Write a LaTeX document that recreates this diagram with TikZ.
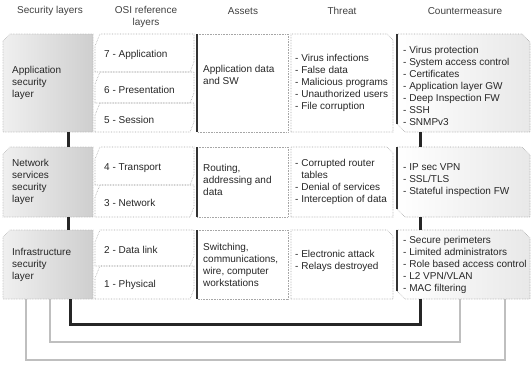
\documentclass[tikz,border=0pt]{standalone}
\usepackage{fontspec}
\setmainfont{Liberation Sans}
\usetikzlibrary{calc}

% outline helpers for the different cell shapes
\newcommand\secshape[1]{%
  \path[secfill] ($(#1.north west)+(0,7)$) -- ($(#1.north west)+(7,0)$) --
    (#1.north east) -- (#1.south east) -- (#1.south west) -- cycle;}
\newcommand\osishape[1]{%
  \draw[edge] (#1.south west) -- ($(#1.north west)+(0,12)$) -- ($(#1.north west)+(5,0)$) --
    (#1.north east) -- ($(#1.south east)+(0,-10)$) -- ($(#1.south east)+(-4,0)$) -- cycle;}
\newcommand\assetshape[1]{%
  \draw[edge] (#1.north west) -- (#1.north east) -- (#1.south east) -- (#1.south west);
  \draw[thickedge] (#1.north west) -- (#1.south west);}
\newcommand\threatshape[1]{%
  \draw[edge] (#1.south west) -- (#1.north west) -- ($(#1.north east)+(-6,0)$) --
    ($(#1.north east)+(0,6)$) -- (#1.south east) -- cycle;}
\newcommand\cmshape[1]{%
  \path[cmfill] ($(#1.south west)+(0,-8)$) -- (#1.north west) -- ($(#1.north east)+(-8,0)$) --
    ($(#1.north east)+(0,8)$) -- (#1.south east) -- ($(#1.south west)+(8,0)$) -- cycle;
  \draw[thickedge] (#1.north west) -- ($(#1.south west)+(0,-8)$);}

\begin{document}
\begin{tikzpicture}[x=1pt,y=-1pt,
  every node/.style={font=\fontsize{10}{12}\selectfont},
  frame/.style={inner sep=0pt, outer sep=0pt, anchor=north west},
  lbl/.style={anchor=west, align=left, inner sep=0pt, text=black!85},
  hdr/.style={align=center, inner sep=0pt, text=black!75},
  edge/.style={draw=gray!70, line width=0.6pt, densely dotted},
  thickedge/.style={draw=black!80, line width=1.8pt},
  secfill/.style={left color=gray!12, right color=gray!38, draw=gray!60, line width=0.6pt, densely dotted},
  cmfill/.style={left color=white, right color=gray!18, draw=gray!70, line width=0.6pt, densely dotted},
  bar/.style={draw=black!85, line width=3pt},
  darklink/.style={draw=black!85, line width=3pt},
  greylink/.style={draw=gray!50, line width=2.6pt}
]
\useasboundingbox (0,0) rectangle (532,364);

% column headers
\node[hdr] (hsec) at (50,11) {Security layers};
\node[hdr] (hosi) at (146,17) {OSI reference\\layers};
\node[hdr] (hass) at (243,11) {Assets};
\node[hdr] (hthr) at (342,11) {Threat};
\node[hdr] (hcm)  at (465,11) {Countermeasure};

% cell frames: application row
\node[frame, minimum width=90pt,  minimum height=98pt] (sec1) at (3,34) {};
\node[frame, minimum width=99pt,  minimum height=38pt] (osi7) at (95,34) {};
\node[frame, minimum width=99pt,  minimum height=31pt] (osi6) at (95,72) {};
\node[frame, minimum width=99pt,  minimum height=29pt] (osi5) at (95,103) {};
\node[frame, minimum width=91pt,  minimum height=98pt] (as1)  at (197,34) {};
\node[frame, minimum width=102pt, minimum height=98pt] (th1)  at (291,34) {};
\node[frame, minimum width=133pt, minimum height=98pt] (cm1)  at (397,34) {};
% network services row
\node[frame, minimum width=90pt,  minimum height=70pt] (sec2) at (3,147) {};
\node[frame, minimum width=99pt,  minimum height=38pt] (osi4) at (95,147) {};
\node[frame, minimum width=99pt,  minimum height=32pt] (osi3) at (95,185) {};
\node[frame, minimum width=91pt,  minimum height=70pt] (as2)  at (197,147) {};
\node[frame, minimum width=102pt, minimum height=70pt] (th2)  at (291,147) {};
\node[frame, minimum width=133pt, minimum height=70pt] (cm2)  at (397,147) {};
% infrastructure row
\node[frame, minimum width=90pt,  minimum height=69pt] (sec3) at (3,230) {};
\node[frame, minimum width=99pt,  minimum height=36pt] (osi2) at (95,230) {};
\node[frame, minimum width=99pt,  minimum height=33pt] (osi1) at (95,266) {};
\node[frame, minimum width=91pt,  minimum height=69pt] (as3)  at (197,230) {};
\node[frame, minimum width=102pt, minimum height=69pt] (th3)  at (291,230) {};
\node[frame, minimum width=133pt, minimum height=69pt] (cm3)  at (397,230) {};

% cell outlines
\secshape{sec1}\secshape{sec2}\secshape{sec3}
\osishape{osi7}\osishape{osi6}\osishape{osi5}
\osishape{osi4}\osishape{osi3}
\osishape{osi2}\osishape{osi1}
\assetshape{as1}\assetshape{as2}\assetshape{as3}
\threatshape{th1}\threatshape{th2}\threatshape{th3}
\cmshape{cm1}\cmshape{cm2}\cmshape{cm3}

% links between stacked layers
\draw[bar] ([xshift=65pt]sec1.south west) -- ([xshift=65pt]sec2.north west);
\draw[bar] ([xshift=65pt]sec2.south west) -- ([xshift=65pt]sec3.north west);
\draw[bar] ([xshift=23pt]cm1.south west) -- ([xshift=23pt]cm2.north west);
\draw[bar] ([xshift=23pt]cm2.south west) -- ([xshift=23pt]cm3.north west);

% loops from the security layers to the countermeasures
\coordinate (lvl1) at (0,324);
\coordinate (lvl2) at (0,342);
\coordinate (lvl3) at (0,360);
\draw[greylink] ([xshift=23pt]sec3.south west) coordinate (o1) -- (o1 |- lvl3) -| ([xshift=108pt]cm3.south west);
\draw[greylink] ([xshift=47pt]sec3.south west) coordinate (m1) -- (m1 |- lvl2) -| ([xshift=63pt]cm3.south west);
\draw[darklink] ([xshift=67pt]sec3.south west) coordinate (d1) -- (d1 |- lvl1) -| ([xshift=23pt]cm3.south west);

% cell texts
\node[lbl] (tsec1) at ($(sec1.west)+(9,0)$) {Application\\security\\layer};
\node[lbl] (tsec2) at ($(sec2.west)+(9,0)$) {Network\\services\\security\\layer};
\node[lbl] (tsec3) at ($(sec3.west)+(9,0)$) {Infrastructure\\security\\layer};

\node[lbl] (t7) at ($(osi7.west)+(9,2)$) {7 - Application};
\node[lbl] (t6) at ($(osi6.west)+(9,2)$) {6 - Presentation};
\node[lbl] (t5) at ($(osi5.west)+(9,2)$) {5 - Session};
\node[lbl] (t4) at ($(osi4.west)+(9,2)$) {4 - Transport};
\node[lbl] (t3) at ($(osi3.west)+(9,2)$) {3 - Network};
\node[lbl] (t2) at ($(osi2.west)+(9,2)$) {2 - Data link};
\node[lbl] (t1) at ($(osi1.west)+(9,2)$) {1 - Physical};

\node[lbl] (tas1) at ($(as1.west)+(6,-8)$) {Application data\\and SW};
\node[lbl] (tas2) at ($(as2.west)+(6,-2)$) {Routing,\\addressing and\\data};
\node[lbl] (tas3) at ($(as3.west)+(6,0)$) {Switching,\\communications,\\wire, computer\\workstations};

\node[lbl] (tth1) at ($(th1.west)+(4,0)$) {- Virus infections\\- False data\\- Malicious programs\\- Unauthorized users\\- File corruption};
\node[lbl] (tth2) at ($(th2.west)+(4,0)$) {- Corrupted router\\\phantom{- }tables\\- Denial of services\\- Interception of data};
\node[lbl] (tth3) at ($(th3.west)+(4,-4)$) {- Electronic attack\\- Relays destroyed};

\node[lbl] (tcm1) at ($(cm1.west)+(6,3)$) {- Virus protection\\- System access control\\- Certificates\\- Application layer GW\\- Deep Inspection FW\\- SSH\\- SNMPv3};
\node[lbl] (tcm2) at ($(cm2.west)+(6,-2)$) {- IP sec VPN\\- SSL/TLS\\- Stateful inspection FW};
\node[lbl] (tcm3) at ($(cm3.west)+(6,0)$) {- Secure perimeters\\- Limited administrators\\- Role based access control\\- L2 VPN/VLAN\\- MAC filtering};
\end{tikzpicture}
\end{document}
